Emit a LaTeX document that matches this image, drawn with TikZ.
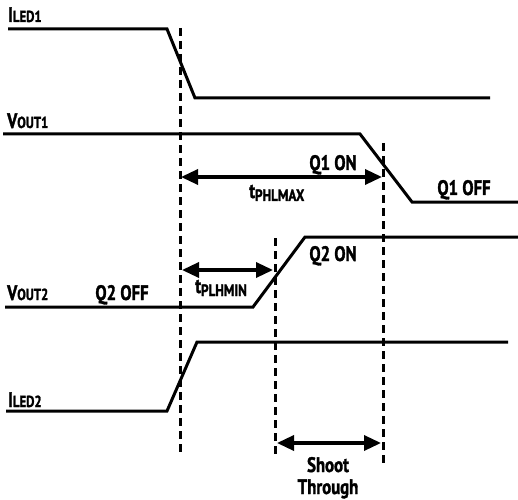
\documentclass[tikz,border=0pt]{standalone}
\usepackage{fontspec}
\setmainfont{PT Sans}[FakeStretch=0.8,BoldFeatures={FakeBold=1.6}]
\usetikzlibrary{arrows.meta}
\newcommand\bigtxt{\fontsize{21}{23}\selectfont\bfseries}
\newcommand\subtxt{\fontsize{16}{18}\selectfont\bfseries}
\newcommand\signame[2]{{\bigtxt #1}{\subtxt #2}}
\newcommand\tname[1]{{\bigtxt t}\raisebox{-3bp}{\fontsize{16.5}{18}\selectfont\bfseries #1}}
\begin{document}
\begin{tikzpicture}[x=1bp,y=-1bp,
  wave/.style={line width=3bp,line join=miter},
  guide/.style={line width=3bp,dash pattern=on 8bp off 5bp},
  meas/.style={line width=3.4bp,{Triangle[length=17bp,width=15bp]}-{Triangle[length=17bp,width=15bp]}},
  lbl/.style={inner sep=0pt,anchor=base west,font=\bigtxt},
  ctr/.style={inner sep=0pt,anchor=base,font=\bigtxt}]
\useasboundingbox (0,0) rectangle (518,500);
% waveforms
\draw[wave] (8,29) -- (167,29) -- (195,98) -- (490,98);
\draw[wave] (3,134) -- (360,134) -- (412,202) -- (518,202);
\draw[wave] (5,307) -- (253,307) -- (305,237) -- (518,237);
\draw[wave] (6,411) -- (167,411) -- (197,342) -- (508,342);
% guide lines
\coordinate (g1t) at (180,28); \coordinate (g1b) at (180,455);
\coordinate (g2t) at (383,143); \coordinate (g2b) at (383,467);
\coordinate (g3t) at (275,238); \coordinate (g3b) at (275,455);
\draw[guide] (g1t) -- (g1b);
\draw[guide] (g2t) -- (g2b);
\draw[guide] (g3t) -- (g3b);
% measurement arrows
\coordinate (a1l) at (181,177); \coordinate (a1r) at (382,177);
\coordinate (a2l) at (182,270); \coordinate (a2r) at (273,270);
\coordinate (a3l) at (277,443); \coordinate (a3r) at (381,443);
\draw[meas] (a1l) -- (a1r);
\draw[meas] (a2l) -- (a2r);
\draw[meas] (a3l) -- (a3r);
% labels
\node[lbl] (iled1) at (8,22) {\signame{I}{LED1}};
\node[lbl] (vout1) at (7,128) {\signame{V}{OUT1}};
\node[lbl] (vout2) at (7,300) {\signame{V}{OUT2}};
\node[lbl] (iled2) at (8,407) {\signame{I}{LED2}};
\node[ctr] (q1on) at (333,170) {Q1 ON};
\node[ctr] (q1off) at (464,195) {Q1 OFF};
\node[ctr] (q2on) at (333,261) {Q2 ON};
\node[ctr] (q2off) at (122,300) {Q2 OFF};
\node[lbl] (tphl) at (249,198) {\tname{PHLMAX}};
\node[lbl] (tplh) at (195,293) {\tname{PLHMIN}};
\node[ctr] (shoot) at (328,472) {Shoot};
\node[ctr] (through) at (328,494) {Through};
\end{tikzpicture}
\end{document}
